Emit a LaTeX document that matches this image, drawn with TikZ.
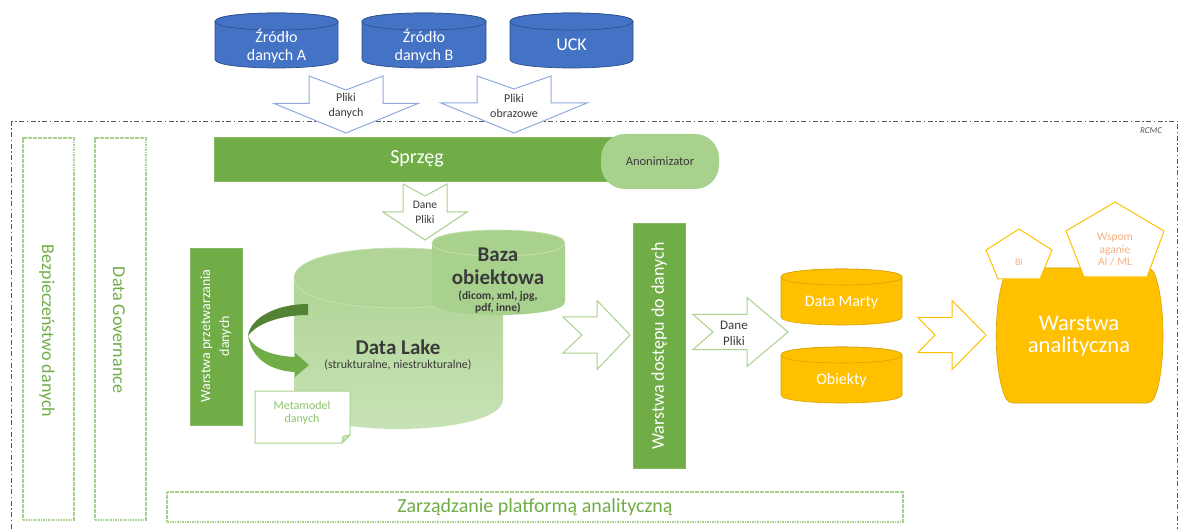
\documentclass[tikz,border=0pt]{standalone}
\usepackage{fontspec}
\setmainfont{Carlito}
\usetikzlibrary{shapes.geometric}

\definecolor{cblue}{HTML}{4472C4}
\definecolor{cblueline}{HTML}{2F528F}
\definecolor{cbluearrow}{HTML}{8FAADC}
\definecolor{cgreen}{HTML}{70AD47}
\definecolor{cgreendark}{HTML}{548235}
\definecolor{cgreenlight}{HTML}{A9D18E}
\definecolor{cgreenpale}{HTML}{C9E3B7}
\definecolor{cgreentext}{HTML}{8CC46C}
\definecolor{cyellow}{HTML}{FFC000}
\definecolor{cyellowline}{HTML}{D9A300}
\definecolor{csalmon}{HTML}{F4B183}
\definecolor{ctext}{HTML}{3A3A3A}
\definecolor{cframe}{HTML}{595959}

\newcommand\sz[2]{\fontsize{#1}{#2}\selectfont}

% database drum: #1 body style, #2 x left, #3 x right, #4 y of lid centre, #5 y of base centre, #6 half height of the ellipses, #7 lid style
\newcommand\drumshape[7]{%
  \path[#1] (#2,#4) -- (#2,#5) .. controls (#2,#5+1.3333*#6) and (#3,#5+1.3333*#6) .. (#3,#5)
    -- (#3,#4) .. controls (#3,#4-1.3333*#6) and (#2,#4-1.3333*#6) .. (#2,#4) -- cycle;
  \path[#7] (#2,#4) .. controls (#2,#4+1.3333*#6) and (#3,#4+1.3333*#6) .. (#3,#4)
    .. controls (#3,#4-1.3333*#6) and (#2,#4-1.3333*#6) .. (#2,#4) -- cycle;}

% notched block arrow pointing down: #1 style, #2 x centre, #3 y top, #4 notch depth, #5 y of head base, #6 y of tip, #7 half shaft, #8 half head
\newcommand\darrowshape[8]{%
  \path[#1] (#2-#7,#3) -- (#2,#3+#4) -- (#2+#7,#3) -- (#2+#7,#5) -- (#2+#8,#5) -- (#2,#6)
    -- (#2-#8,#5) -- (#2-#7,#5) -- cycle;}

% notched block arrow pointing right: #1 style, #2 x tail, #3 y centre, #4 notch depth, #5 x of head base, #6 x of tip, #7 half shaft, #8 half head
\newcommand\rarrowshape[8]{%
  \path[#1] (#2,#3-#7) -- (#5,#3-#7) -- (#5,#3-#8) -- (#6,#3) -- (#5,#3+#8) -- (#5,#3+#7)
    -- (#2,#3+#7) -- (#2+#4,#3) -- cycle;}

\begin{document}
\begin{tikzpicture}[x=1pt,y=-1pt,
  lbl/.style={inner sep=0pt, align=center},
  dashbox/.style={draw=cgreenlight, line width=1.1pt, dash pattern=on 1.6pt off 0.9pt},
  bluearrow/.style={draw=cbluearrow, fill=white, line width=1pt, line join=miter},
  greenarrow/.style={draw=cgreenlight, fill=white, line width=1pt, line join=miter},
  yellowarrow/.style={draw=cyellow, fill=white, line width=1pt, line join=miter},
  bluedrum/.style={fill=cblue, draw=cblueline, line width=0.7pt},
  yellowdrum/.style={fill=cyellow, draw=cyellowline, line width=0.6pt},
  greenbar/.style={fill=cgreen, draw=cgreen!85!white, line width=0.5pt, inner sep=0pt},
  pentagonline/.style={draw=cyellow, fill=white, line width=1pt, line join=miter},
]
\useasboundingbox (0,0) rectangle (1178,529);
\fill[white] (0,0) rectangle (1178,529);

% ---------- outer frame ----------
\draw[cframe, line width=0.9pt, dash pattern=on 5pt off 2.5pt on 1.5pt off 2.5pt]
  (11,121) rectangle (1177,560);
\node[lbl, font=\itshape\sz{9}{10}, text=cframe] (rcmc) at (1151,131) {RCMC};

% ---------- sources ----------
\drumshape{bluedrum}{215}{338}{21.5}{59.5}{8.5}{bluedrum}
\drumshape{bluedrum}{362}{486}{21.5}{59.5}{8.5}{bluedrum}
\drumshape{bluedrum}{510}{633}{21.5}{59.5}{8.5}{bluedrum}
\node[lbl, text=white, font=\sz{16}{17.5}] (srcA) at (276.5,46) {Źródło\\danych A};
\node[lbl, text=white, font=\sz{16}{17.5}] (srcB) at (424,46) {Źródło\\danych B};
\node[lbl, text=white, font=\sz{18}{20}] (uck) at (571.5,45) {UCK};

% ---------- incoming files ----------
\darrowshape{bluearrow}{346}{76}{14}{103.5}{133}{37}{72}
\darrowshape{bluearrow}{514}{76}{13}{103}{133}{37}{73}
\node[lbl, text=ctext, font=\sz{12}{15.5}] (fileA) at (346,106) {Pliki\\danych};
\node[lbl, text=ctext, font=\sz{12}{15.5}] (fileB) at (514,106) {Pliki\\obrazowe};

% ---------- interface ----------
\node[greenbar, minimum width=406, minimum height=44] (sprzeg) at (417,159) {};
\node[lbl, text=white, font=\sz{20}{22}] (sprzegtxt) at (417,159) {Sprzęg};
\node[fill=cgreenlight, rounded corners=24pt, minimum width=118, minimum height=55, inner sep=0pt,
      text=ctext, font=\sz{12.5}{14}] (anon) at (660,161.5) {Anonimizator};

\darrowshape{greenarrow}{425}{184}{12}{212}{240}{22}{42}
\node[lbl, text=ctext, font=\sz{11.5}{15}] (intoLake) at (425,212) {Dane\\Pliki};

% ---------- cross-cutting areas ----------
\node[dashbox, minimum width=51, minimum height=382, inner sep=0pt] (secbox) at (48.5,329) {};
\node[lbl, rotate=-90, text=cgreen, font=\sz{18}{20}] (sectxt) at (47,331) {Bezpieczeństwo danych};
\node[dashbox, minimum width=51, minimum height=382, inner sep=0pt] (govbox) at (120.5,329) {};
\node[lbl, rotate=-90, text=cgreen, font=\sz{18}{20}] (govtxt) at (119,330) {Data Governance};
\node[dashbox, minimum width=736, minimum height=30, inner sep=0pt, text=cgreen, font=\sz{20}{22}]
  (mgmt) at (535,507) {Zarządzanie platformą analityczną};

% ---------- processing ----------
\node[greenbar, minimum width=52, minimum height=177] (proc) at (216,336.5) {};
\node[lbl, rotate=90, text=white, font=\sz{14}{19}] (proctxt) at (216,336) {Warstwa przetwarzania\\danych};

% data lake
\drumshape{top color=cgreenlight, bottom color=cgreenpale, draw=none}{294}{503}{278}{399}{30}
  {fill=cgreenlight!92!white, draw=cgreenpale, line width=0.6pt}
% object store
\drumshape{fill=cgreenlight, draw=none}{432}{565}{243}{302}{13}
  {fill=cgreenlight, draw=cgreenpale, line width=0.6pt}
\node[lbl, text=ctext, font=\bfseries\sz{21}{23}] (lake) at (398,347) {Data Lake};
\node[lbl, text=ctext, font=\sz{12}{14}] (lakesub) at (398,365) {(strukturalne, niestrukturalne)};
\node[lbl, text=ctext, font=\bfseries\sz{21}{23}] (baza) at (498,266) {Baza\\obiektowa};
\node[lbl, text=ctext, font=\bfseries\sz{11.5}{12.5}] (bazasub) at (498,302) {(dicom, xml, jpg,\\pdf, inne)};

% looping arrow beside the lake
\path[fill=cgreendark] (308,304) .. controls (276,304) and (250,318) .. (248,336)
  .. controls (256,324) and (280,315) .. (308,315) -- cycle;
\path[fill=cgreen] (248,336) .. controls (252,360) and (272,371) .. (295,372) -- (295,377)
  -- (309,365) -- (295,353) -- (295,357) .. controls (274,356) and (254,350) .. (248,336) -- cycle;

% metamodel note
\path[fill=white, draw=cgreenlight, line width=1pt, line join=miter]
  (255,391) -- (350,391) -- (350,435) -- (342,443) -- (255,443) -- cycle;
\path[fill=cgreenlight!60!white, draw=cgreenlight, line width=0.8pt] (350,435) -- (343,436) -- (342,443) -- cycle;
\node[lbl, text=cgreentext, font=\sz{12}{12.5}] (meta) at (302,413) {Metamodel\\danych};

% ---------- access ----------
\rarrowshape{greenarrow}{563}{335}{19}{597}{630}{18}{34.5}
\node[greenbar, minimum width=52, minimum height=245] (access) at (659,345.5) {};
\node[lbl, rotate=90, text=white, font=\sz{18}{20}] (accesstxt) at (659,346) {Warstwa dostępu do danych};

\rarrowshape{greenarrow}{693}{332}{20}{747}{788}{17.5}{34.5}
\node[lbl, text=ctext, font=\sz{13}{16}] (toMarts) at (734,333) {Dane\\Pliki};

\drumshape{yellowdrum}{781}{902}{277}{317}{8}{yellowdrum}
\drumshape{yellowdrum}{781}{902}{355}{395}{8}{yellowdrum}
\node[lbl, text=white, font=\sz{16}{18}] (marts) at (841.5,303) {Data Marty};
\node[lbl, text=white, font=\sz{16}{18}] (objs) at (841.5,380) {Obiekty};

% ---------- analytics ----------
\rarrowshape{yellowarrow}{918}{335}{17}{952}{986}{17.5}{34.5}
\path[fill=cyellow, draw=cyellowline, line width=0.6pt, rounded corners=5pt]
  (1008,268) -- (1152,268) .. controls (1166,300) and (1166,372) .. (1152,403)
  -- (1008,403) .. controls (993,372) and (993,300) .. (1008,268) -- cycle;
\node[lbl, text=white, font=\sz{22.5}{22}] (anal) at (1079,336) {Warstwa\\analityczna};

\path[pentagonline] (1019,229) -- (1052,250) -- (1040,279) -- (998,279) -- (986,250) -- cycle;
\node[lbl, text=csalmon, font=\sz{10}{12}] (bi) at (1019,262) {BI};
\path[pentagonline] (1115,202) -- (1164,231) -- (1147,277) -- (1084,277) -- (1066,231) -- cycle;
\node[lbl, text=csalmon, font=\sz{11.5}{12.5}] (aiml) at (1115,250) {Wspom\\aganie\\AI / ML};
\end{tikzpicture}
\end{document}
